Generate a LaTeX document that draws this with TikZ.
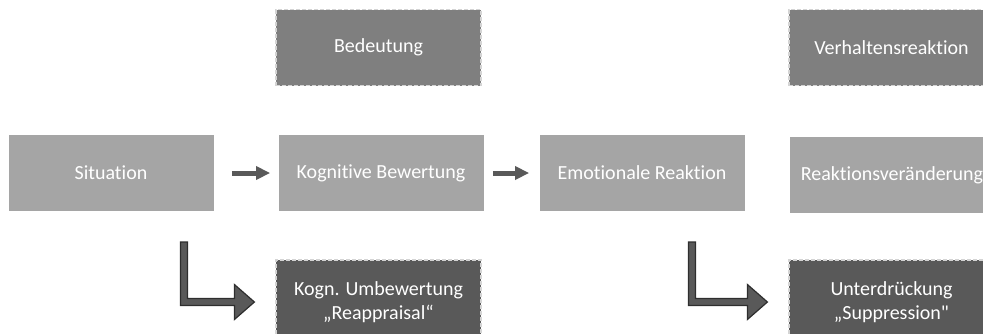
\documentclass[tikz,border=0pt]{standalone}
\usepackage{fontspec}
\setmainfont{Carlito}[Ligatures={NoCommon}]
\newfontfamily\plainquote{Carlito}
\usepackage{tikz}
\usetikzlibrary{arrows.meta,positioning,calc}
\definecolor{erLight}{HTML}{A5A5A5}
\definecolor{erMid}{HTML}{7F7F7F}
\definecolor{erDark}{HTML}{595959}
\definecolor{erDash}{HTML}{D4D4D4}
\definecolor{erEdge}{HTML}{2E2E2E}

% bent block arrow: #1 start coordinate, #2 target node
\newcommand{\bentarrow}[2]{%
  \draw[bentflow] ($(#1)+(-3.5,0)$) -- ($(#1)+(3.5,0)$)
    |- ($(#2.west)+(-41,-3.5)$) -- ++(0,-14) -- ($(#2.west)+(-21,0)$)
    -- ($(#2.west)+(-41,17.5)$) -- ++(0,-14) -| ($(#1)+(-3.5,0)$) -- cycle;}

\begin{document}
\begin{tikzpicture}[x=0.5pt, y=-0.5pt,
    box/.style={minimum width=102.5pt, minimum height=38pt, inner sep=0pt,
      text=white, align=center, font=\fontsize{10}{12}\selectfont},
    step box/.style={box, fill=erLight},
    meaning box/.style={box, fill=erMid, draw=erDash, line width=0.6pt,
      dash pattern=on 2pt off 1pt},
    strategy box/.style={meaning box, fill=erDark, minimum height=42pt},
    flow/.style={draw=erDark, line width=2.5pt,
      -{Triangle[length=7pt, width=6.5pt]}},
    bentflow/.style={fill=erDark, draw=erEdge, line width=0.6pt, line join=miter}]
  \useasboundingbox (0,0) rectangle (983,333);

  % main chain
  \node[step box] (sit) at (111,173) {Situation};
  \node[step box] (kog) at (381,173) {Kognitive Bewertung};
  \node[step box] (emo) at (642,173) {Emotionale Reaktion};
  \node[step box] (rv) at (892,175) {Reaktionsveränderung};

  % upper row
  \node[meaning box] (bed) at (378.5,47.5) {Bedeutung};
  \node[meaning box] (ver) at (891.5,47.5) {Verhaltensreaktion};

  % lower row
  \node[strategy box] (umb) at (378.5,302) {Kogn. Umbewertung\\„Reappraisal“};
  \node[strategy box] (unt) at (891.5,302) {Unterdrückung\\„Suppression{\plainquote"}};

  \draw[flow, shorten <=9pt, shorten >=4pt] (sit) -- (kog);
  \draw[flow, shorten <=4.5pt, shorten >=5pt] (kog) -- (emo);

  \coordinate (r1) at (184,242);
  \coordinate (r2) at (692,242);
  \bentarrow{r1}{umb}
  \bentarrow{r2}{unt}
\end{tikzpicture}
\end{document}
